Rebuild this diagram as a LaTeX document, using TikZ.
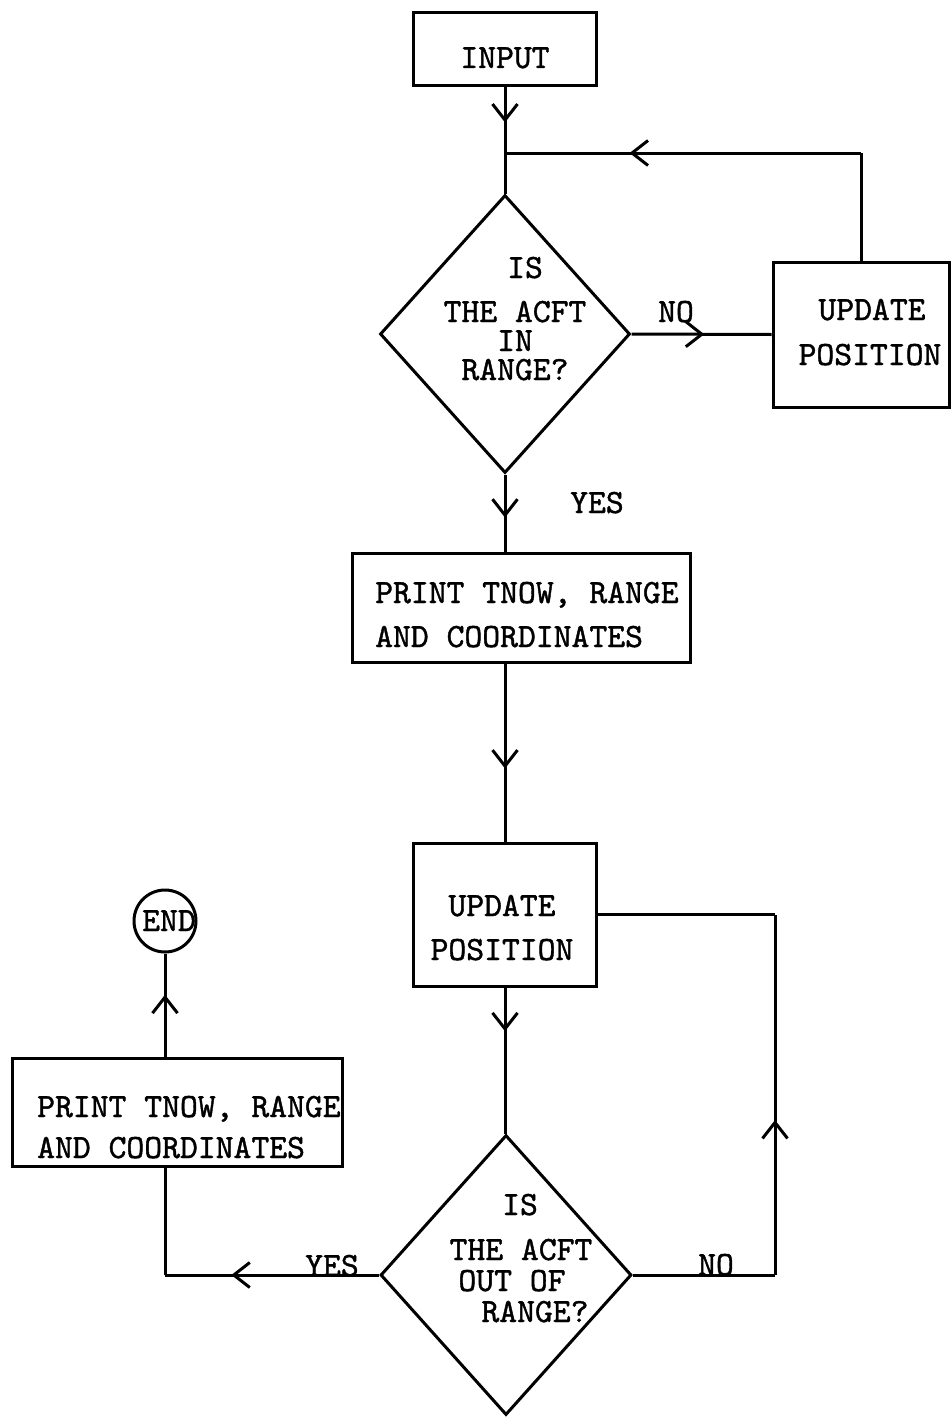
\documentclass[tikz,border=0pt]{standalone}
\usepackage{fontspec}
\newfontfamily\twfont{lmmono10-regular.otf}[FakeBold=1.2]
\usetikzlibrary{shapes.geometric,arrows.meta,decorations.markings}
\tikzset{
  x=1pt,y=-1pt,
  every node/.style={font=\twfont\fontsize{34}{44}\selectfont},
  conn/.style={line width=3pt},
  marrow/.style={postaction={decorate},decoration={markings,mark=at position #1 with {\arrow{Straight Barb[length=16pt,width=25pt,line width=3pt]}}}},
  boxnode/.style={draw,line width=3pt,inner sep=0pt},
  dia/.style={draw,diamond,line width=3pt,inner sep=0pt},
  lbl/.style={inner sep=0pt,text height=20pt,text depth=0pt},
  lline/.style={lbl,anchor=west}
}
\begin{document}
\begin{tikzpicture}
\useasboundingbox[fill=white] (0,0) rectangle (951,1418);
% boxes and shapes
\node[boxnode,minimum width=183pt,minimum height=73pt] (input) at (505,49.5) {};
\node[lbl] (inputt) at (505,58) {INPUT};
\node[dia,minimum width=250pt,minimum height=278pt] (d1) at (505,334) {};
\node[lbl] (d1a) at (525,268) {IS};
\node[lbl] (d1b) at (515,312) {THE ACFT};
\node[lbl] (d1c) at (515,341) {IN};
\node[lbl] (d1d) at (515,370) {RANGE?};
\node[boxnode,minimum width=176pt,minimum height=145pt] (up1) at (861,334.5) {};
\node[lbl] (up1a) at (872,310) {UPDATE};
\node[lbl] (up1b) at (870,355) {POSITION};
\node[boxnode,minimum width=338pt,minimum height=109pt] (pr1) at (521,607.5) {};
\node[lline] (pr1a) at (375,593) {PRINT TNOW, RANGE};
\node[lline] (pr1b) at (375,637) {AND COORDINATES};
\node[boxnode,minimum width=183pt,minimum height=143pt] (up2) at (505,914.5) {};
\node[lbl] (up2a) at (502,906) {UPDATE};
\node[lbl] (up2b) at (502,950) {POSITION};
\node[dia,minimum width=251pt,minimum height=280pt] (d2) at (506,1275) {};
\node[lbl] (d2a) at (520,1205) {IS};
\node[lbl] (d2b) at (521,1250) {THE ACFT};
\node[lbl] (d2c) at (512,1281) {OUT OF};
\node[lbl] (d2d) at (535,1312) {RANGE?};
\node[boxnode,minimum width=330pt,minimum height=108pt] (pr2) at (177,1112) {};
\node[lline] (pr2a) at (37,1107) {PRINT TNOW, RANGE};
\node[lline] (pr2b) at (37,1148) {AND COORDINATES};
\node[draw,circle,line width=3pt,minimum size=62pt,inner sep=0pt] (end) at (165,921) {};
\node[lbl] (endt) at (169,921) {END};
% labels
\node[lbl] (no1) at (676,312) {NO};
\node[lbl] (yes1) at (597,503) {YES};
\node[lbl] (yes2) at (332,1266) {YES};
\node[lbl] (no2) at (716,1265) {NO};
% connectors
\coordinate (j1) at (input.south |- 0,153);
\coordinate (c1) at (up1.north |- j1);
\draw[conn,marrow=0.33] (input.south) -- (d1.north);
\draw[conn] (up1.north) -- (c1);
\draw[conn,marrow=0.65] (c1) -- (j1);
\draw[conn,marrow=0.52] (d1.east) -- (up1.west);
\draw[conn,marrow=0.56] (d1.south) -- (d1.south |- pr1.north);
\draw[conn,marrow=0.59] (pr1.south -| up2.north) -- (up2.north);
\draw[conn,marrow=0.3] (up2.south) -- (up2.south |- d2.north);
\coordinate (c3) at (775,1275);
\coordinate (c4) at (c3 |- up2.east);
\draw[conn] (d2.east) -- (c3);
\draw[conn,marrow=0.43] (c3) -- (c4);
\draw[conn] (c4) -- (up2.east);
\coordinate (c5) at (d2.west -| end.south);
\draw[conn,marrow=0.69] (d2.west) -- (c5);
\draw[conn] (c5) -- (pr2.south -| end.south);
\draw[conn,marrow=0.6] (pr2.north -| end.south) -- (end.south);
\end{tikzpicture}
\end{document}
